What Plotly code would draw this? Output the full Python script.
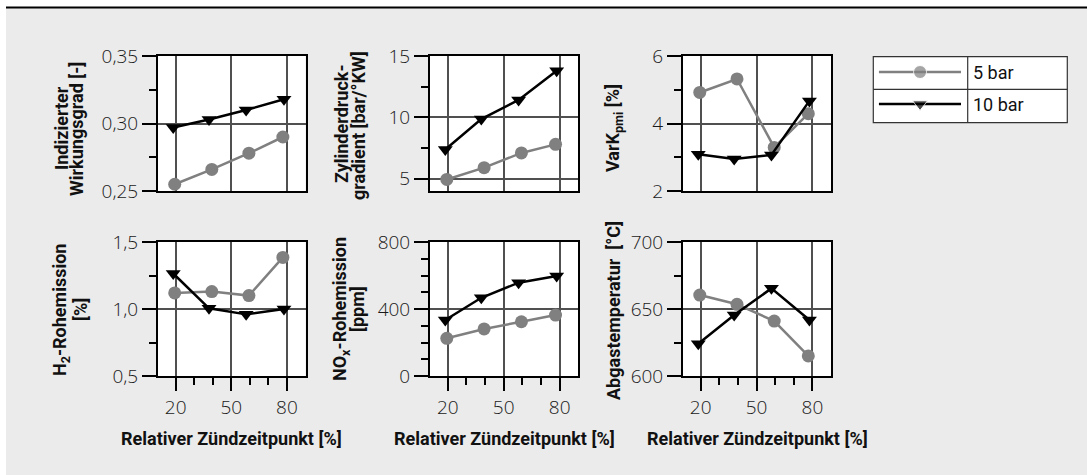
import plotly.graph_objects as go

W, H = 1087, 475

# ---------------- data ----------------
x_5bar = [19.5, 39.5, 59.5, 77.8]
x_10bar = [18.7, 38.0, 58.0, 78.4]

eta_5 = [0.255, 0.266, 0.278, 0.290]
eta_10 = [0.297, 0.303, 0.310, 0.318]
grad_5 = [4.94, 5.90, 7.10, 7.80]
grad_10 = [7.38, 9.86, 11.42, 13.8]
vark_5 = [4.92, 5.32, 3.29, 4.29]
vark_10 = [3.09, 2.95, 3.07, 4.67]
h2_5 = [1.12, 1.13, 1.10, 1.385]
h2_10 = [1.265, 1.005, 0.96, 1.00]
nox_5 = [225, 281, 324, 364]
nox_10 = [334, 467, 557, 597]
tex_5 = [660.4, 653.5, 641.0, 615.0]
tex_10 = [624.0, 645.5, 665.4, 641.8]

x_ticks = [20, 50, 80]
x_ticktext = ["20", "50", "80"]
x_minor = [30, 40, 60, 70]

series_names = ["5 bar", "10 bar"]

panels = [
    dict(y5=eta_5, y10=eta_10, rng=[0.25, 0.35], ticks=[0.25, 0.30, 0.35],
         ticktext=["0,25", "0,30", "0,35"], minor=[0.275, 0.325],
         title=["Indizierter", "Wirkungsgrad [-]"]),
    dict(y5=grad_5, y10=grad_10, rng=[4, 15], ticks=[5, 10, 15],
         ticktext=["5", "10", "15"], minor=[7.5, 12.5],
         title=["Zylinderdruck-", "gradient [bar/°KW]"]),
    dict(y5=vark_5, y10=vark_10, rng=[2, 6], ticks=[2, 4, 6],
         ticktext=["2", "4", "6"], minor=[3, 5],
         title=["VarK<sub>pmi</sub> [%]"]),
    dict(y5=h2_5, y10=h2_10, rng=[0.5, 1.5], ticks=[0.5, 1.0, 1.5],
         ticktext=["0,5", "1,0", "1,5"], minor=[0.75, 1.25],
         title=["H<sub>2</sub>-Rohemission", "[%]"]),
    dict(y5=nox_5, y10=nox_10, rng=[0, 800], ticks=[0, 400, 800],
         ticktext=["0", "400", "800"], minor=[100, 200, 300, 500, 600, 700],
         title=["NO<sub>x</sub>-Rohemission", "[ppm]"]),
    dict(y5=tex_5, y10=tex_10, rng=[600, 700], ticks=[600, 650, 700],
         ticktext=["600", "650", "700"], minor=[625, 675],
         title=["Abgastemperatur  [°C]"]),
]

xlabel = "Relativer Zündzeitpunkt [%]"

# ---------------- style / layout ----------------
GRAY = "#808080"
BLACK = "#000000"
GRID = "#505050"
BG = "#ebebeb"

TICK_FONT = dict(family="Open Sans, Lato, sans-serif", size=19, color="#1a1a1a", weight=300)
TITLE_FONT = dict(family="Roboto, Liberation Sans, sans-serif", size=18, color="#111111", weight="bold")
LEG_FONT = dict(family="Roboto, Liberation Sans, sans-serif", size=18, color="#111111")

def px(v):
    return v / W

def py(v):
    return 1 - v / H

col_px = [(158, 305.5), (430, 578.3), (683, 831)]
row_px = [(56, 191), (242, 376)]
title_pos_row1 = [[(61, 128), (76, 129)], [(341, 124), (358, 126)], [(614, 128)]]
title_pos_row2 = [[(61, 310), (80, 310)], [(341, 309), (357, 309)], [(613, 311)]]

fig = go.Figure()
annotations = []

for i, p in enumerate(panels):
    r, c = divmod(i, 3)
    n = i + 1
    xa = "x" if n == 1 else f"x{n}"
    ya = "y" if n == 1 else f"y{n}"
    fig.add_trace(go.Scatter(x=x_5bar, y=p["y5"], xaxis=xa, yaxis=ya, mode="lines+markers",
                             name=series_names[0], showlegend=False,
                             line=dict(color=GRAY, width=2.5),
                             marker=dict(symbol="circle", size=13, color=GRAY)))
    fig.add_trace(go.Scatter(x=x_10bar, y=p["y10"], xaxis=xa, yaxis=ya, mode="lines+markers",
                             name=series_names[1], showlegend=False,
                             line=dict(color=BLACK, width=2.5),
                             marker=dict(symbol="triangle-down", size=13, color=BLACK)))
    x0, x1 = col_px[c]
    y0, y1 = row_px[r]
    bottom = (r == 1)
    xkey = "xaxis" if n == 1 else f"xaxis{n}"
    ykey = "yaxis" if n == 1 else f"yaxis{n}"
    fig.layout[xkey] = dict(
        domain=[px(x0), px(x1)], anchor=ya, range=[10.5, 90], automargin=False,
        tickmode="array", tickvals=x_ticks, ticktext=x_ticktext,
        showticklabels=bottom, ticks="outside" if bottom else "",
        ticklen=13, tickwidth=1.5, tickcolor=BLACK, tickfont=TICK_FONT,
        showgrid=True, gridcolor=GRID, gridwidth=1.5, zeroline=False,
        showline=True, linecolor=BLACK, linewidth=2, mirror=True,
        minor=dict(tickmode="array", tickvals=x_minor, ticks="outside" if bottom else "",
                   ticklen=7, tickwidth=1.5, tickcolor=BLACK, showgrid=False),
        fixedrange=True,
    )
    fig.layout[ykey] = dict(
        domain=[py(y1), py(y0)], anchor=xa, range=p["rng"], automargin=False,
        tickmode="array", tickvals=p["ticks"], ticktext=p["ticktext"],
        ticks="outside", ticklen=14, tickwidth=1.5, tickcolor=BLACK, tickfont=TICK_FONT,
        showgrid=True, gridcolor=GRID, gridwidth=1.5, zeroline=False,
        showline=True, linecolor=BLACK, linewidth=2, mirror=True,
        minor=dict(tickmode="array", tickvals=p["minor"], ticks="outside",
                   ticklen=7, tickwidth=1.5, tickcolor=BLACK, showgrid=False),
        fixedrange=True,
    )
    pos = (title_pos_row1 if r == 0 else title_pos_row2)[c]
    for line, (tx, ty) in zip(p["title"], pos):
        annotations.append(dict(text=line, x=px(tx), y=py(ty), xref="paper", yref="paper",
                                xanchor="center", yanchor="middle", textangle=-90,
                                showarrow=False, font=TITLE_FONT))
    if bottom:
        annotations.append(dict(text=xlabel, x=px((x0 + x1) / 2), y=py(438),
                                xref="paper", yref="paper", xanchor="center",
                                yanchor="middle", showarrow=False, font=TITLE_FONT))

# ---------------- legend box (own hidden axis) ----------------
lx0, lx1, ly0, ly1 = 873.3, 1067.3, 56.7, 122.7
fig.layout["xaxis7"] = dict(domain=[px(lx0), px(lx1)], range=[0, 1], visible=False,
                            anchor="y7", fixedrange=True, automargin=False)
fig.layout["yaxis7"] = dict(domain=[py(ly1), py(ly0)], range=[0, 1], visible=False,
                            anchor="x7", fixedrange=True, automargin=False)
leg_rows = [0.768, 0.283]
leg_styles = [(GRAY, "circle"), (BLACK, "triangle-down")]
for name, yy, (col, sym) in zip(series_names, leg_rows, leg_styles):
    fig.add_trace(go.Scatter(x=[0.029, 0.241, 0.452], y=[yy, yy, yy], xaxis="x7", yaxis="y7",
                             mode="lines+markers", showlegend=False, hoverinfo="skip",
                             line=dict(color=col, width=2.5),
                             marker=dict(symbol=sym, size=[0, 13, 0], color=col)))
    annotations.append(dict(text=name, x=0.505, y=yy, xref="x7", yref="y7", xanchor="left",
                            yanchor="middle", showarrow=False, font=LEG_FONT))

shapes = [
    dict(type="rect", xref="x7 domain", yref="y7 domain", x0=0, x1=1, y0=0, y1=1,
         line=dict(color="#333333", width=1.2), fillcolor="white", layer="below"),
    dict(type="line", xref="x7 domain", yref="y7 domain", x0=0.4866, x1=0.4866, y0=0, y1=1,
         line=dict(color="#333333", width=1.2)),
    dict(type="line", xref="x7 domain", yref="y7 domain", x0=0, x1=1, y0=0.506, y1=0.506,
         line=dict(color="#333333", width=1.2)),
    # white margins & top rule
    dict(type="rect", xref="paper", yref="paper", x0=0, x1=px(6), y0=0, y1=1,
         line=dict(width=0), fillcolor="white"),
    dict(type="rect", xref="paper", yref="paper", x0=0, x1=1, y0=py(7), y1=1,
         line=dict(width=0), fillcolor="white"),
    dict(type="line", xref="paper", yref="paper", x0=px(6), x1=1, y0=py(7.5), y1=py(7.5),
         line=dict(color=BLACK, width=2)),
]

fig.update_layout(
    width=W, height=H, autosize=False,
    margin=dict(l=0, r=0, t=0, b=0, pad=0, autoexpand=False),
    paper_bgcolor=BG, plot_bgcolor="white",
    showlegend=False,
    annotations=annotations, shapes=shapes,
)

fig.write_html("out.html", config={"displayModeBar": False},
               post_script="document.body.style.margin='0';document.body.style.overflow='hidden';")
